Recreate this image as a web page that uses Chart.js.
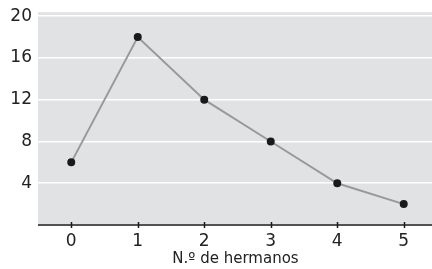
<!DOCTYPE html>
<html>
<head>
<meta charset="utf-8">
<script src="https://cdn.jsdelivr.net/npm/chart.js@4"></script>
<style>
  html, body { margin: 0; padding: 0; background: #fff; }
  #wrap { width: 432px; height: 269px; overflow: hidden; }
</style>
</head>
<body>
<div id="wrap"><canvas id="chart" width="439" height="269"></canvas></div>
<script>
// valores
const hermanos = [0, 1, 2, 3, 4, 5];
const frecuencias = [6, 18, 12, 8, 4, 2];
const yLabels = [4, 8, 12, 16, 20];
const xTitle = 'N.º de hermanos';

// fondo gris del área de trazado (un poco por encima de 20)
const plotBg = {
  id: 'plotBg',
  beforeDraw(chart) {
    const { ctx, chartArea: a } = chart;
    ctx.save();
    ctx.fillStyle = '#e1e2e4';
    ctx.fillRect(a.left, a.top - 4, a.right - a.left, a.bottom - a.top + 4);
    ctx.restore();
  }
};

// línea del eje x con marcas que cruzan
const baseAxis = {
  id: 'baseAxis',
  afterDatasetsDraw(chart) {
    const { ctx, chartArea: a, scales } = chart;
    ctx.save();
    ctx.strokeStyle = '#1a1a1a';
    ctx.lineWidth = 1.5;
    ctx.beginPath();
    ctx.moveTo(a.left, a.bottom);
    ctx.lineTo(a.right, a.bottom);
    hermanos.forEach(h => {
      const x = Math.round(scales.x.getPixelForValue(h)) + 0.5;
      ctx.moveTo(x, a.bottom - 3);
      ctx.lineTo(x, a.bottom + 3);
    });
    ctx.stroke();
    ctx.restore();
  }
};

new Chart(document.getElementById('chart'), {
  type: 'line',
  data: {
    datasets: [{
      data: hermanos.map((h, i) => ({ x: h, y: frecuencias[i] })),
      borderColor: '#999999',
      borderWidth: 2,
      pointBackgroundColor: '#1a1a1a',
      pointBorderColor: '#1a1a1a',
      pointRadius: 3,
      tension: 0,
    }],
  },
  options: {
    responsive: false,
    animation: false,
    layout: { padding: { top: 14, right: 0, bottom: 0, left: 0 } },
    plugins: { legend: { display: false }, tooltip: { enabled: false } },
    scales: {
      x: {
        type: 'linear',
        min: -0.5,
        max: 5.44,
        afterBuildTicks: s => { s.ticks = hermanos.map(v => ({ value: v })); },
        afterFit: s => { s.paddingLeft = 0; s.paddingRight = 0; s.height = 44; },
        grid: { display: false, drawTicks: false },
        border: { display: false },
        ticks: {
          color: '#222',
          font: { family: 'DejaVu Sans', size: 17, lineHeight: 1 },
          padding: 8,
          callback: v => String(v),
        },
        title: {
          display: true,
          text: xTitle,
          color: '#222',
          font: { family: 'DejaVu Sans', size: 15 },
          padding: { top: 0, bottom: 1 },
        },
      },
      y: {
        min: 0,
        max: 20,
        afterFit: s => { s.width = 38; },
        ticks: {
          stepSize: 2,
          color: '#222',
          font: { family: 'DejaVu Sans', size: 17 },
          padding: 6,
          callback: v => (yLabels.includes(v) ? String(v) : ''),
        },
        grid: { color: '#ffffff', lineWidth: 1.5, drawTicks: false },
        border: { display: false },
      },
    },
  },
  plugins: [plotBg, baseAxis],
});
</script>
</body>
</html>
